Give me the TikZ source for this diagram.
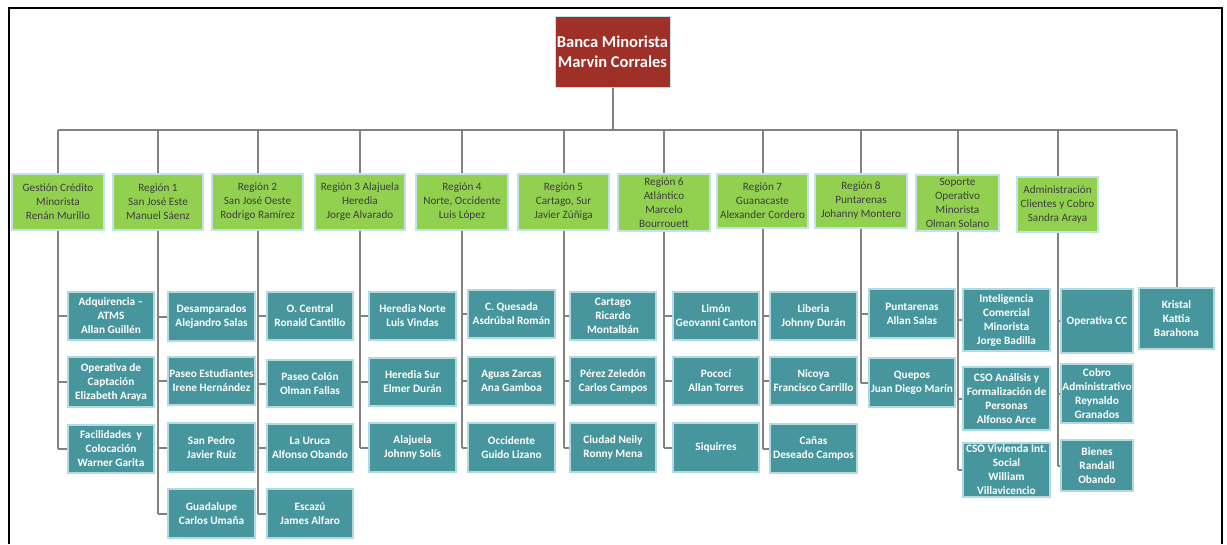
\documentclass[tikz,border=0pt]{standalone}
\usepackage{fontspec}
\setmainfont{Carlito}
\definecolor{rootred}{RGB}{158,48,39}
\definecolor{lgreen}{RGB}{146,208,80}
\definecolor{gborder}{RGB}{196,226,234}
\definecolor{teal2}{RGB}{72,150,157}
\definecolor{tborder}{RGB}{178,218,224}
\definecolor{gtext}{RGB}{62,62,62}
\definecolor{lineg}{RGB}{130,130,130}
\tikzset{
  lvlroot/.style={draw=gborder, line width=1pt, fill=rootred, text=white, inner sep=0pt, align=center,
    font=\fontsize{16.5}{20}\selectfont\bfseries},
  lvlone/.style={draw=gborder, line width=1.2pt, fill=lgreen, text=gtext, inner sep=0pt, align=center,
    font=\fontsize{11.2}{14}\selectfont},
  lvltwo/.style={draw=tborder, line width=1.2pt, fill=teal2, text=white, inner sep=0pt, align=center,
    font=\fontsize{11.3}{14}\selectfont\bfseries},
  conn/.style={draw=lineg, line width=2pt},
  sz/.style 2 args={minimum width=#1 pt, minimum height=#2 pt}
}
\begin{document}
\begin{tikzpicture}[x=1pt,y=-1pt]
\useasboundingbox (0,0) rectangle (1227,544);
\fill[white] (0,0) rectangle (1227,544);
% frame
\draw[black, line width=2pt] (9,544) -- (9,8) -- (1222,8) -- (1222,544);

% root
\node[lvlroot, sz={115}{71}] (root) at (612.5,51.5) {Banca Minorista\\Marvin Corrales};

% level one
\node[lvlone, sz={92}{56}] (g1) at (58,202) {Gestión Crédito\\Minorista\\Renán Murillo};
\node[lvlone, sz={90}{56}] (g2) at (158,202) {Región 1\\San José Este\\Manuel Sáenz};
\node[lvlone, sz={91}{56}] (g3) at (257.5,202) {Región 2\\San José Oeste\\Rodrigo Ramírez};
\node[lvlone, sz={90}{56}] (g4) at (360,202) {Región 3 Alajuela\\Heredia\\Jorge Alvarado};
\node[lvlone, sz={92}{56}] (g5) at (462,202) {Región 4\\Norte, Occidente\\Luis López};
\node[lvlone, sz={91}{56}] (g6) at (563.5,202) {Región 5\\Cartago, Sur\\Javier Zúñiga};
\node[lvlone, sz={92}{57}] (g7) at (664,202.5) {Región 6\\Atlántico\\Marcelo\\Bourrouett};
\node[lvlone, sz={91}{54}] (g8) at (762.5,201) {Región 7\\Guanacaste\\Alexander Cordero};
\node[lvlone, sz={92}{54}] (g9) at (861,201) {Región 8\\Puntarenas\\Johanny Montero};
\node[lvlone, sz={83}{56}] (g10) at (957.5,203) {Soporte\\Operativo\\Minorista\\Olman Solano};
\node[lvlone, sz={81}{55}] (g11) at (1057.5,204.5) {Administración\\Clientes y Cobro\\Sandra Araya};

% level two
\node[lvltwo, sz={86}{48}] (a1) at (111,316) {Adquirencia –\\ATMS\\Allan Guillén};
\node[lvltwo, sz={86}{50}] (a2) at (111,382) {Operativa de\\Captación\\Elizabeth Araya};
\node[lvltwo, sz={86}{48}] (a3) at (111,449) {Facilidades~ y\\Colocación\\Warner Garita};

\node[lvltwo, sz={87}{49}] (b1) at (211.5,316.5) {Desamparados\\Alejandro Salas};
\node[lvltwo, sz={87}{48}] (b2) at (211.5,381) {Paseo Estudiantes\\Irene Hernández};
\node[lvltwo, sz={87}{49}] (b3) at (211.5,447.5) {San Pedro\\Javier Ruíz};
\node[lvltwo, sz={87}{49}] (b4) at (211.5,513.5) {Guadalupe\\Carlos Umaña};

\node[lvltwo, sz={86}{48}] (c1) at (310,316) {O. Central\\Ronald Cantillo};
\node[lvltwo, sz={86}{47}] (c2) at (310,383.5) {Paseo Colón\\Olman Fallas};
\node[lvltwo, sz={86}{48}] (c3) at (310,448) {La Uruca\\Alfonso Obando};
\node[lvltwo, sz={86}{49}] (c4) at (310,513.5) {Escazú\\James Alfaro};

\node[lvltwo, sz={87}{48}] (d1) at (412.5,316) {Heredia Norte\\Luis Vindas};
\node[lvltwo, sz={87}{48}] (d2) at (412.5,382) {Heredia Sur\\Elmer Durán};
\node[lvltwo, sz={87}{49}] (d3) at (412.5,447.5) {Alajuela\\Johnny Solís};

\node[lvltwo, sz={87}{48}] (e1) at (511.5,314) {C. Quesada\\Asdrúbal Román};
\node[lvltwo, sz={87}{48}] (e2) at (511.5,381) {Aguas Zarcas\\Ana Gamboa};
\node[lvltwo, sz={87}{49}] (e3) at (511.5,447.5) {Occidente\\Guido Lizano};

\node[lvltwo, sz={86}{48}] (f1) at (613,316) {Cartago\\Ricardo\\Montalbán};
\node[lvltwo, sz={86}{48}] (f2) at (613,381) {Pérez Zeledón\\Carlos Campos};
\node[lvltwo, sz={86}{49}] (f3) at (613,447.5) {Ciudad Neily\\Ronny Mena};

\node[lvltwo, sz={86}{48}] (h1) at (716,316) {Limón\\Geovanni Canton};
\node[lvltwo, sz={86}{48}] (h2) at (716,381) {Pococí\\Allan Torres};
\node[lvltwo, sz={86}{49}] (h3) at (716,447.5) {Siquirres};

\node[lvltwo, sz={87}{48}] (i1) at (813.5,316) {Liberia\\Johnny Durán};
\node[lvltwo, sz={87}{48}] (i2) at (813.5,381) {Nicoya\\Francisco Carrillo};
\node[lvltwo, sz={87}{49}] (i3) at (813.5,448.5) {Cañas\\Deseado Campos};

\node[lvltwo, sz={86}{49}] (j1) at (912,313.5) {Puntarenas\\Allan Salas};
\node[lvltwo, sz={86}{49}] (j2) at (912,382.5) {Quepos\\Juan Diego Marín};

\node[lvltwo, sz={87}{62}] (k1) at (1006.5,320) {Inteligencia\\Comercial\\Minorista\\Jorge Badilla};
\node[lvltwo, sz={87}{63}] (k2) at (1006.5,398.5) {CSO Análisis y\\Formalización de\\Personas\\Alfonso Arce};
\node[lvltwo, sz={87}{54}] (k3) at (1006.5,470) {CSO Vivienda Int.\\Social\\William\\Villavicencio};

\node[lvltwo, sz={72}{64}] (l1) at (1097,321) {Operativa CC};
\node[lvltwo, sz={72}{59}] (l2) at (1097,393.5) {Cobro\\Administrativo\\Reynaldo\\Granados};
\node[lvltwo, sz={72}{51}] (l3) at (1097,465.5) {Bienes\\Randall\\Obando};

\node[lvltwo, sz={75}{61}] (kr) at (1176.5,318.5) {Kristal\\Kattia\\Barahona};

% bus
\coordinate (bus) at (0,130);
\draw[conn] (root.south) -- (root.south |- bus);
\draw[conn] (g1.north |- bus) -- (kr.north |- bus);
\foreach \g in {g1,g2,g3,g4,g5,g6,g7,g8,g9,g10,g11}{
  \draw[conn] (\g.north |- bus) -- (\g.north);
}
\draw[conn] (kr.north |- bus) -- (kr.north);

% column connectors
\draw[conn] (g1.south) -- (g1.south |- a3.west);
\foreach \c in {a1,a2,a3}{\draw[conn] (g1.south |- \c.west) -- (\c.west);}
\draw[conn] (g2.south) -- (g2.south |- b4.west);
\foreach \c in {b1,b2,b3,b4}{\draw[conn] (g2.south |- \c.west) -- (\c.west);}
\draw[conn] (g3.south) -- (g3.south |- c4.west);
\foreach \c in {c1,c2,c3,c4}{\draw[conn] (g3.south |- \c.west) -- (\c.west);}
\draw[conn] (g4.south) -- (g4.south |- d3.west);
\foreach \c in {d1,d2,d3}{\draw[conn] (g4.south |- \c.west) -- (\c.west);}
\draw[conn] (g5.south) -- (g5.south |- e3.west);
\foreach \c in {e1,e2,e3}{\draw[conn] (g5.south |- \c.west) -- (\c.west);}
\draw[conn] (g6.south) -- (g6.south |- f3.west);
\foreach \c in {f1,f2,f3}{\draw[conn] (g6.south |- \c.west) -- (\c.west);}
\draw[conn] (g7.south) -- (g7.south |- h3.west);
\foreach \c in {h1,h2,h3}{\draw[conn] (g7.south |- \c.west) -- (\c.west);}
\draw[conn] (g8.south) -- (g8.south |- i3.west);
\foreach \c in {i1,i2,i3}{\draw[conn] (g8.south |- \c.west) -- (\c.west);}
\draw[conn] (g9.south) -- (g9.south |- j2.west);
\foreach \c in {j1,j2}{\draw[conn] (g9.south |- \c.west) -- (\c.west);}
\draw[conn] (g10.south) -- (g10.south |- k3.west);
\foreach \c in {k1,k2,k3}{\draw[conn] (g10.south |- \c.west) -- (\c.west);}
\draw[conn] (g11.south) -- (g11.south |- l3.west);
\foreach \c in {l1,l2,l3}{\draw[conn] (g11.south |- \c.west) -- (\c.west);}
\end{tikzpicture}
\end{document}
